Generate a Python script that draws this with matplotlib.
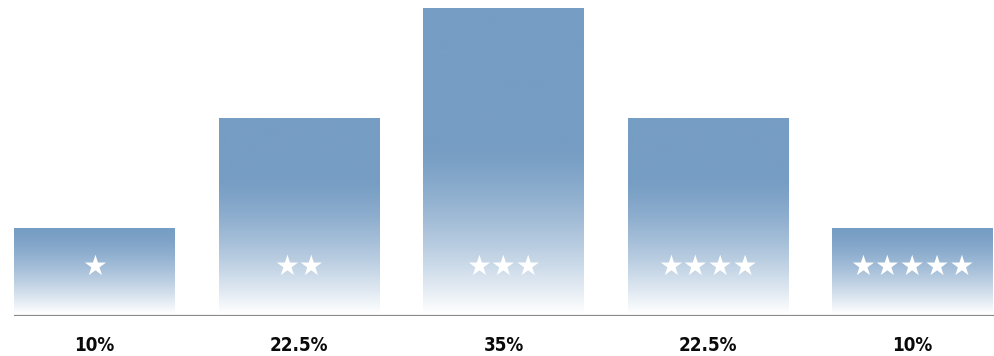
import numpy as np
import matplotlib
matplotlib.use("Agg")
import matplotlib.pyplot as plt
from matplotlib import font_manager
from matplotlib.colors import to_rgb

# ── Data ─────────────────────────────────────────────────────────────────────
ratings = ["★", "★★", "★★★", "★★★★", "★★★★★"]
shares = [10, 22.5, 35, 22.5, 10]
share_labels = ["10%", "22.5%", "35%", "22.5%", "10%"]

# ── Style ────────────────────────────────────────────────────────────────────
BAR_BLUE = "#769dc4"
AXIS_GREY = "#8a8a8a"
BAR_WIDTH = 0.787

# a narrow bold face for the labels, if one is installed
fonts = font_manager.fontManager.ttflist
label_kw = dict(family="Liberation Sans", fontweight="bold")
if any(f.name == "Liberation Sans Narrow" for f in fonts):
    label_kw = dict(family="Liberation Sans Narrow", fontweight="bold")
elif any(f.name == "DejaVu Sans" and f.stretch == "condensed" for f in fonts):
    label_kw = dict(family="DejaVu Sans", fontweight="bold", fontstretch="condensed")

fig = plt.figure(figsize=(9.95, 3.56), dpi=100, facecolor="white")
ax = fig.add_axes([0, 40 / 356, 1, 316 / 356])
x = np.arange(len(shares))

bars = ax.bar(x, shares, width=BAR_WIDTH, color="none", edgecolor="none", zorder=2)

# vertical gradient per bar: white at the baseline easing into solid blue
blue = np.array(to_rgb(BAR_BLUE))
n = 400
for b in bars:
    x0, w, h = b.get_x(), b.get_width(), b.get_height()
    fade = min(h, 9 + 0.3 * h)
    vals = np.linspace(0, h, n)
    s = np.clip((vals - 0.25) / (fade - 0.25), 0, 1)
    t = 1 - (1 - s) ** 1.4
    grad = ((1 - t)[:, None] + t[:, None] * blue[None, :])[:, None, :]
    im = ax.imshow(grad, extent=[x0, x0 + w, 0, h], origin="lower",
                   aspect="auto", interpolation="bilinear", zorder=2)
    im.set_clip_path(b)

# star ratings inside the bars
for xi, r in zip(x, ratings):
    ax.text(xi, 5.6, r, ha="center", va="center", color="white",
            fontsize=20, family="DejaVu Sans", zorder=3)

# share labels below the baseline
for xi, lab in zip(x, share_labels):
    ax.text(xi, -3.3, lab, ha="center", va="center", color="#0a0a0a",
            fontsize=13.5, clip_on=False, **label_kw)

ax.set_xlim(-94.5 / 204.5, 4 + (995 - 912.5) / 204.5)
ax.set_ylim(0, 316 / 8.8)

# baseline starting at the first bar's left edge
ax.hlines(0, bars[0].get_x(), ax.get_xlim()[1], color=AXIS_GREY,
          linewidth=1.6, zorder=4)

ax.axis("off")
fig.savefig("out.png", dpi=100, facecolor="white")
